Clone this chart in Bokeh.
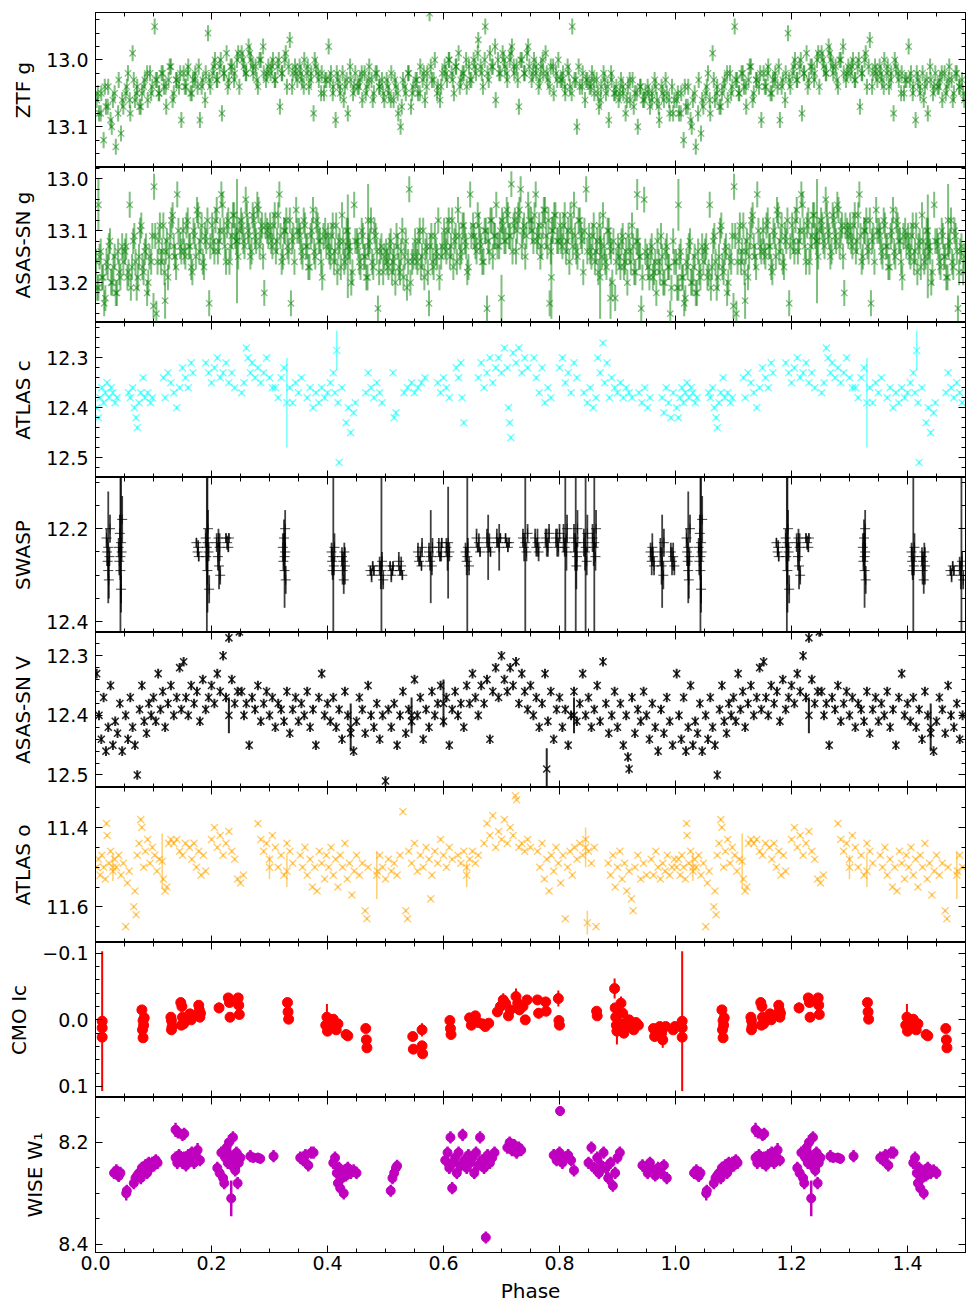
from bokeh.plotting import figure
from bokeh.models import (Range1d, LinearAxis, SingleIntervalTicker,
                          CustomJSTickFormatter, CustomLabelingPolicy)
from bokeh.layouts import column
from bokeh.embed import file_html
from bokeh.resources import INLINE

FONT = "DejaVu Sans"
TICK_FS = "19px"
LABEL_FS = "20px"

# ---------------- DATA (phase 0-1; phases < 0.5 are repeated at phase+1) ----------------
ZTF_PHASE = [
 0.002,0.006,0.010,0.014,0.018,0.022,0.026,0.030,0.035,0.040,0.044,0.048,
 0.052,0.056,0.060,0.064,0.068,0.072,0.076,0.080,0.085,0.090,0.094,0.098,
 0.102,0.106,0.110,0.114,0.118,0.122,0.126,0.130,0.135,0.140,0.144,0.148,
 0.152,0.156,0.160,0.164,0.168,0.172,0.176,0.180,0.185,0.190,0.194,0.198,
 0.202,0.206,0.210,0.214,0.218,0.222,0.226,0.230,0.235,0.240,0.244,0.248,
 0.252,0.256,0.260,0.264,0.268,0.272,0.276,0.280,0.285,0.290,0.294,0.298,
 0.302,0.306,0.310,0.314,0.318,0.322,0.326,0.330,0.335,0.340,0.344,0.348,
 0.352,0.356,0.360,0.364,0.368,0.372,0.376,0.380,0.385,0.390,0.394,0.398,
 0.402,0.406,0.410,0.414,0.418,0.422,0.426,0.430,0.435,0.440,0.444,0.448,
 0.452,0.456,0.460,0.464,0.468,0.472,0.476,0.480,0.485,0.490,0.494,0.498,
 0.502,0.506,0.510,0.514,0.518,0.522,0.526,0.530,0.535,0.540,0.544,0.548,
 0.552,0.556,0.560,0.564,0.568,0.572,0.576,0.580,0.585,0.590,0.594,0.598,
 0.602,0.606,0.610,0.614,0.618,0.622,0.626,0.630,0.635,0.640,0.644,0.648,
 0.652,0.656,0.660,0.664,0.668,0.672,0.676,0.680,0.685,0.690,0.694,0.698,
 0.702,0.706,0.710,0.714,0.718,0.722,0.726,0.730,0.735,0.740,0.744,0.748,
 0.752,0.756,0.760,0.764,0.768,0.772,0.776,0.780,0.785,0.790,0.794,0.798,
 0.802,0.806,0.810,0.814,0.818,0.822,0.826,0.830,0.835,0.840,0.844,0.848,
 0.852,0.856,0.860,0.864,0.868,0.872,0.876,0.880,0.885,0.890,0.894,0.898,
 0.902,0.906,0.910,0.914,0.918,0.922,0.926,0.930,0.935,0.940,0.944,0.948,
 0.952,0.956,0.960,0.964,0.968,0.972,0.976,0.980,0.985,0.990,0.994,0.998,
]
ZTF_MAG = [
 13.06,13.08,13.05,13.12,13.07,13.04,13.09,13.06,13.13,13.03,13.11,13.07,
 13.05,13.02,13.08,12.99,13.06,13.04,13.07,13.05,13.03,13.06,13.02,13.04,
 12.95,13.03,13.05,13.02,13.04,13.07,13.03,13.01,13.05,13.03,13.04,13.09,
 13.02,13.04,13.01,13.05,13.03,13.02,13.04,13.09,13.03,13.02,12.96,13.04,
 13.02,13.00,13.03,13.01,13.08,13.02,12.99,13.03,13.01,13.02,13.00,13.04,
 12.99,13.01,13.02,12.98,13.00,13.02,13.01,13.04,13.00,13.02,13.03,13.01,
 13.02,13.00,13.03,13.01,13.07,13.02,13.00,13.04,12.97,13.02,13.01,13.03,
 13.01,13.03,13.00,13.02,13.04,13.02,13.08,13.01,13.03,13.02,13.05,13.03,
 12.98,13.02,13.04,13.09,13.03,13.05,13.02,13.04,13.08,13.03,13.05,13.02,
 13.04,13.03,13.06,13.02,13.04,13.01,13.03,13.05,13.02,13.04,13.03,13.06,
 13.03,13.05,13.02,13.06,13.04,13.08,13.10,13.03,13.05,13.02,13.07,13.04,
 13.03,13.05,13.01,13.03,13.06,13.02,12.93,13.03,13.00,13.04,13.06,13.02,
 13.01,13.03,13.00,13.02,13.05,13.01,12.99,13.03,13.02,13.04,13.01,13.03,
 13.00,13.02,12.97,13.01,13.04,12.95,13.02,12.99,13.01,13.06,13.00,13.02,
 12.99,13.01,13.03,13.00,12.98,13.02,13.01,13.07,13.00,13.02,12.99,13.01,
 13.03,13.00,13.02,13.04,13.01,13.02,12.99,13.03,13.01,13.05,13.02,13.00,
 13.03,13.02,13.05,13.01,13.04,12.95,13.03,13.10,13.04,13.02,13.06,13.03,
 13.04,13.02,13.05,13.03,13.07,13.04,13.02,13.05,13.09,13.03,13.05,13.04,
 13.06,13.03,13.05,13.08,13.04,13.06,13.03,13.05,13.10,13.04,13.06,13.05,
 13.04,13.07,13.05,13.03,13.06,13.09,13.04,13.06,13.05,13.08,13.04,13.06,
]
ZTF2_PHASE = [
 0.004,0.009,0.016,0.021,0.028,0.033,0.039,0.046,
 0.054,0.059,0.066,0.071,0.078,0.083,0.089,0.096,
 0.104,0.109,0.116,0.121,0.128,0.133,0.139,0.146,
 0.154,0.159,0.166,0.171,0.178,0.183,0.189,0.196,
 0.204,0.209,0.216,0.221,0.228,0.233,0.239,0.246,
 0.254,0.259,0.266,0.271,0.278,0.283,0.289,0.296,
 0.304,0.309,0.316,0.321,0.328,0.333,0.339,0.346,
 0.354,0.359,0.366,0.371,0.378,0.383,0.389,0.396,
 0.404,0.409,0.416,0.421,0.428,0.433,0.439,0.446,
 0.454,0.459,0.466,0.471,0.478,0.483,0.489,0.496,
 0.504,0.509,0.516,0.521,0.528,0.533,0.539,0.546,
 0.554,0.559,0.566,0.571,0.578,0.583,0.589,0.596,
 0.604,0.609,0.616,0.621,0.628,0.633,0.639,0.646,
 0.654,0.659,0.666,0.671,0.678,0.683,0.689,0.696,
 0.704,0.709,0.716,0.721,0.728,0.733,0.739,0.746,
 0.754,0.759,0.766,0.771,0.778,0.783,0.789,0.796,
 0.804,0.809,0.816,0.821,0.828,0.833,0.839,0.846,
 0.854,0.859,0.866,0.871,0.878,0.883,0.889,0.896,
 0.904,0.909,0.916,0.921,0.928,0.933,0.939,0.946,
 0.954,0.959,0.966,0.971,0.978,0.983,0.989,0.996,
]
ZTF2_MAG = [
 13.05,13.08,13.04,13.07,13.10,13.05,13.08,13.06,
 13.04,13.06,13.03,13.05,13.07,13.04,13.02,13.05,
 13.03,13.05,13.02,13.04,13.01,13.06,13.03,13.02,
 13.04,13.02,13.05,13.03,13.01,13.04,13.06,13.03,
 13.01,13.03,13.00,13.02,13.04,13.01,13.03,12.99,
 13.00,13.02,12.99,13.01,13.03,13.00,12.98,13.02,
 13.01,13.03,13.00,13.02,12.99,13.01,13.04,13.02,
 13.02,13.04,13.01,13.03,13.00,13.02,13.05,13.03,
 13.03,13.05,13.02,13.04,13.06,13.03,13.01,13.04,
 13.04,13.02,13.05,13.03,13.06,13.02,13.04,13.05,
 13.04,13.06,13.03,13.05,13.07,13.04,13.02,13.05,
 13.03,13.05,13.02,13.04,13.01,13.03,13.05,13.04,
 13.02,13.00,13.03,13.01,13.04,13.02,13.00,13.03,
 13.01,12.99,13.02,13.00,13.03,13.01,12.98,13.02,
 13.00,13.02,12.99,13.01,13.03,13.00,13.02,12.98,
 13.02,13.01,13.03,13.00,13.02,13.04,13.01,13.03,
 13.03,13.04,13.02,13.05,13.03,13.01,13.04,13.03,
 13.04,13.03,13.05,13.06,13.03,13.04,13.02,13.05,
 13.05,13.04,13.06,13.03,13.07,13.05,13.04,13.06,
 13.05,13.06,13.04,13.07,13.05,13.03,13.06,13.08,
]
ZTF_ERR = 0.012

ASASG_PHASE = [
 0.001,0.005,0.009,0.013,0.017,0.021,0.025,0.029,0.033,0.037,0.041,0.046,
 0.051,0.055,0.059,0.063,0.067,0.071,0.075,0.079,0.083,0.087,0.091,0.096,
 0.101,0.105,0.109,0.113,0.117,0.121,0.125,0.129,0.133,0.137,0.141,0.146,
 0.151,0.155,0.159,0.163,0.167,0.171,0.175,0.179,0.183,0.187,0.191,0.196,
 0.201,0.205,0.209,0.213,0.217,0.221,0.225,0.229,0.233,0.237,0.241,0.246,
 0.251,0.255,0.259,0.263,0.267,0.271,0.275,0.279,0.283,0.287,0.291,0.296,
 0.301,0.305,0.309,0.313,0.317,0.321,0.325,0.329,0.333,0.337,0.341,0.346,
 0.351,0.355,0.359,0.363,0.367,0.371,0.375,0.379,0.383,0.387,0.391,0.396,
 0.401,0.405,0.409,0.413,0.417,0.421,0.425,0.429,0.433,0.437,0.441,0.446,
 0.451,0.455,0.459,0.463,0.467,0.471,0.475,0.479,0.483,0.487,0.491,0.496,
 0.501,0.505,0.509,0.513,0.517,0.521,0.525,0.529,0.533,0.537,0.541,0.546,
 0.551,0.555,0.559,0.563,0.567,0.571,0.575,0.579,0.583,0.587,0.591,0.596,
 0.601,0.605,0.609,0.613,0.617,0.621,0.625,0.629,0.633,0.637,0.641,0.646,
 0.651,0.655,0.659,0.663,0.667,0.671,0.675,0.679,0.683,0.687,0.691,0.696,
 0.701,0.705,0.709,0.713,0.717,0.721,0.725,0.729,0.733,0.737,0.741,0.746,
 0.751,0.755,0.759,0.763,0.767,0.771,0.775,0.779,0.783,0.787,0.791,0.796,
 0.801,0.805,0.809,0.813,0.817,0.821,0.825,0.829,0.833,0.837,0.841,0.846,
 0.851,0.855,0.859,0.863,0.867,0.871,0.875,0.879,0.883,0.887,0.891,0.896,
 0.901,0.905,0.909,0.913,0.917,0.921,0.925,0.929,0.933,0.937,0.941,0.946,
 0.951,0.955,0.959,0.963,0.967,0.971,0.975,0.979,0.983,0.987,0.991,0.996,
]
ASASG_MAG = [
 13.16,13.21,13.14,13.19,13.23,13.17,13.12,13.20,13.15,13.22,13.18,13.13,
 13.14,13.19,13.05,13.17,13.11,13.21,13.15,13.09,13.18,13.13,13.20,13.16,
 13.015,13.26,13.12,13.16,13.09,13.14,13.19,13.11,13.07,13.15,13.03,13.13,
 13.10,13.15,13.08,13.13,13.18,13.11,13.06,13.14,13.09,13.17,13.12,13.24,
 13.09,13.14,13.06,13.12,13.03,13.10,13.16,13.08,13.13,13.07,13.11,13.15,
 13.08,13.12,13.04,13.10,13.15,13.07,13.11,13.05,13.13,13.09,13.22,13.10,
 13.09,13.13,13.07,13.12,13.03,13.16,13.10,13.08,13.14,13.24,13.11,13.06,
 13.10,13.14,13.08,13.13,13.17,13.11,13.06,13.15,13.09,13.12,13.19,13.10,
 13.11,13.15,13.09,13.14,13.18,13.12,13.07,13.16,13.10,13.13,13.20,13.05,
 13.12,13.16,13.10,13.15,13.19,13.13,13.08,13.17,13.11,13.25,13.14,13.18,
 13.14,13.17,13.12,13.16,13.20,13.13,13.18,13.10,13.15,13.21,13.02,13.16,
 13.12,13.16,13.10,13.15,13.19,13.13,13.24,13.11,13.17,13.14,13.08,13.15,
 13.10,13.14,13.08,13.13,13.17,13.11,13.06,13.15,13.09,13.12,13.18,13.03,
 13.09,13.13,13.07,13.12,13.16,13.10,13.25,13.14,13.08,13.11,13.05,13.13,
 13.08,13.12,13.06,13.11,13.01,13.09,13.14,13.07,13.02,13.10,13.15,13.05,
 13.08,13.12,13.03,13.11,13.15,13.09,13.06,13.13,13.24,13.10,13.07,13.12,
 13.09,13.13,13.07,13.12,13.16,13.10,13.05,13.14,13.08,13.11,13.18,13.02,
 13.11,13.15,13.09,13.14,13.18,13.12,13.07,13.16,13.10,13.13,13.20,13.23,
 13.13,13.17,13.11,13.16,13.20,13.14,13.09,13.18,13.12,13.15,13.25,13.04,
 13.15,13.19,13.13,13.18,13.22,13.16,13.11,13.20,13.14,13.17,13.26,13.12,
]
ASASG2_PHASE = [
 0.003,0.007,0.011,0.015,0.019,0.023,0.027,0.031,0.035,0.039,0.043,0.048,
 0.053,0.057,0.061,0.065,0.069,0.073,0.077,0.081,0.085,0.089,0.093,0.098,
 0.103,0.107,0.111,0.115,0.119,0.123,0.127,0.131,0.135,0.139,0.143,0.148,
 0.153,0.157,0.161,0.165,0.169,0.173,0.177,0.181,0.185,0.189,0.193,0.198,
 0.203,0.207,0.211,0.215,0.219,0.223,0.227,0.231,0.235,0.239,0.243,0.248,
 0.253,0.257,0.261,0.265,0.269,0.273,0.277,0.281,0.285,0.289,0.293,0.298,
 0.303,0.307,0.311,0.315,0.319,0.323,0.327,0.331,0.335,0.339,0.343,0.348,
 0.353,0.357,0.361,0.365,0.369,0.373,0.377,0.381,0.385,0.389,0.393,0.398,
 0.403,0.407,0.411,0.415,0.419,0.423,0.427,0.431,0.435,0.439,0.443,0.448,
 0.453,0.457,0.461,0.465,0.469,0.473,0.477,0.481,0.485,0.489,0.493,0.498,
 0.503,0.507,0.511,0.515,0.519,0.523,0.527,0.531,0.535,0.539,0.543,0.548,
 0.553,0.557,0.561,0.565,0.569,0.573,0.577,0.581,0.585,0.589,0.593,0.598,
 0.603,0.607,0.611,0.615,0.619,0.623,0.627,0.631,0.635,0.639,0.643,0.648,
 0.653,0.657,0.661,0.665,0.669,0.673,0.677,0.681,0.685,0.689,0.693,0.698,
 0.703,0.707,0.711,0.715,0.719,0.723,0.727,0.731,0.735,0.739,0.743,0.748,
 0.753,0.757,0.761,0.765,0.769,0.773,0.777,0.781,0.785,0.789,0.793,0.798,
 0.803,0.807,0.811,0.815,0.819,0.823,0.827,0.831,0.835,0.839,0.843,0.848,
 0.853,0.857,0.861,0.865,0.869,0.873,0.877,0.881,0.885,0.889,0.893,0.898,
 0.903,0.907,0.911,0.915,0.919,0.923,0.927,0.931,0.935,0.939,0.943,0.948,
 0.953,0.957,0.961,0.965,0.969,0.973,0.977,0.981,0.985,0.989,0.993,0.998,
]
ASASG2_MAG = [
 13.21,13.15,13.19,13.24,13.16,13.13,13.20,13.17,13.22,13.14,13.19,13.16,
 13.13,13.18,13.21,13.12,13.16,13.19,13.10,13.17,13.14,13.22,13.15,13.11,
 13.11,13.16,13.09,13.14,13.18,13.12,13.15,13.08,13.13,13.17,13.10,13.14,
 13.14,13.09,13.13,13.17,13.10,13.15,13.07,13.12,13.16,13.11,13.08,13.13,
 13.12,13.08,13.14,13.10,13.05,13.13,13.09,13.16,13.11,13.07,13.12,13.10,
 13.09,13.13,13.07,13.11,13.14,13.08,13.12,13.06,13.10,13.15,13.09,13.11,
 13.12,13.09,13.14,13.07,13.11,13.15,13.10,13.13,13.08,13.12,13.16,13.10,
 13.11,13.15,13.09,13.13,13.17,13.10,13.14,13.08,13.12,13.16,13.11,13.13,
 13.14,13.11,13.16,13.09,13.13,13.17,13.12,13.15,13.10,13.14,13.18,13.12,
 13.13,13.17,13.11,13.15,13.19,13.12,13.16,13.10,13.14,13.18,13.13,13.15,
 13.16,13.13,13.18,13.15,13.11,13.17,13.14,13.19,13.12,13.16,13.20,13.15,
 13.15,13.12,13.17,13.10,13.14,13.18,13.13,13.16,13.11,13.15,13.19,13.13,
 13.13,13.10,13.15,13.08,13.12,13.16,13.11,13.14,13.09,13.13,13.17,13.11,
 13.11,13.14,13.09,13.13,13.16,13.10,13.12,13.08,13.15,13.11,13.13,13.10,
 13.09,13.12,13.07,13.11,13.14,13.08,13.10,13.06,13.13,13.09,13.11,13.08,
 13.10,13.07,13.12,13.09,13.13,13.06,13.11,13.08,13.14,13.10,13.07,13.12,
 13.12,13.09,13.14,13.10,13.07,13.13,13.11,13.15,13.08,13.12,13.10,13.14,
 13.14,13.11,13.16,13.12,13.09,13.15,13.13,13.17,13.10,13.14,13.12,13.16,
 13.15,13.12,13.17,13.14,13.11,13.16,13.13,13.18,13.12,13.15,13.19,13.14,
 13.17,13.14,13.19,13.16,13.12,13.18,13.15,13.20,13.13,13.17,13.21,13.16,
]
ASASG_ERR = 0.025
ASASG_WIDE = [(0.005, 13.05, 0.05), (0.100, 13.245, 0.025), (0.120, 13.235, 0.035),
              (0.244, 13.12, 0.12), (0.435, 13.13, 0.10), (0.470, 13.08, 0.07),
              (0.700, 13.23, 0.045), (0.786, 13.19, 0.08), (0.870, 13.19, 0.08),
              (0.888, 13.23, 0.04), (0.934, 13.03, 0.03)]

ATLASC_PHASE = [
 0.002,0.005,0.008,0.011,0.014,0.017,0.020,0.023,0.027,0.030,0.034,0.037,
 0.057,0.060,0.064,0.067,0.070,0.072,0.075,0.078,0.082,0.085,0.090,0.095,0.098,
 0.117,0.120,0.125,0.130,0.135,0.140,0.145,0.150,0.155,0.160,0.165,0.168,
 0.190,0.195,0.200,0.205,0.210,0.215,0.220,0.225,0.230,0.235,0.240,
 0.252,0.256,0.260,0.263,0.267,0.270,0.275,0.280,0.285,0.290,0.295,0.300,0.305,
 0.310,0.315,0.320,0.325,0.335,0.340,0.345,0.350,0.355,
 0.365,0.370,0.375,0.380,0.385,0.390,0.395,0.400,0.405,0.410,0.413,0.418,0.420,0.425,
 0.432,0.436,0.440,0.445,0.448,
 0.466,0.470,0.475,0.480,0.485,0.490,0.494,
 0.513,0.515,0.518,
 0.532,0.538,0.545,0.550,0.556,0.562,0.568,
 0.590,0.595,0.600,0.605,0.610,
 0.622,0.626,0.630,0.632,0.635,
 0.660,0.665,0.670,0.675,0.680,0.685,0.690,
 0.695,0.700,0.705,0.710,0.712,0.714,0.716,
 0.720,0.725,0.730,0.735,0.740,0.745,
 0.756,0.760,0.765,0.770,0.775,0.780,0.785,
 0.800,0.805,0.810,0.815,0.820,0.825,0.830,
 0.842,0.848,0.853,0.858,0.863,
 0.866,0.870,0.875,0.878,0.882,0.886,0.890,
 0.895,0.900,0.905,0.910,0.915,0.920,0.925,
 0.937,0.942,0.947,0.952,0.956,
 0.977,0.980,0.984,0.988,0.992,0.996,
]
ATLASC_MAG = [
 12.40,12.42,12.38,12.36,12.39,12.37,12.35,12.38,12.36,12.37,12.39,12.38,
 12.37,12.38,12.36,12.40,12.42,12.44,12.39,12.37,12.34,12.38,12.37,12.39,12.38,
 12.34,12.38,12.33,12.35,12.37,12.40,12.36,12.32,12.34,12.36,12.31,12.33,
 12.31,12.33,12.35,12.32,12.30,12.34,12.33,12.31,12.35,12.33,12.36,
 12.37,12.35,12.28,12.30,12.33,12.31,12.34,12.32,12.35,12.33,12.30,12.34,12.36,
 12.36,12.38,12.34,12.32,12.36,12.39,12.35,12.37,12.34,
 12.38,12.36,12.40,12.37,12.39,12.36,12.38,12.37,12.35,12.33,12.37,12.39,12.51,12.36,
 12.43,12.40,12.45,12.41,12.39,
 12.37,12.33,12.36,12.38,12.35,12.37,12.39,
 12.33,12.42,12.41,
 12.37,12.36,12.35,12.37,12.36,12.35,12.34,
 12.35,12.37,12.34,12.36,12.38,
 12.32,12.34,12.31,12.38,12.43,
 12.34,12.31,12.36,12.33,12.30,12.35,12.32,
 12.30,12.33,12.28,12.32,12.40,12.43,12.46,
 12.29,12.31,12.28,12.33,12.30,12.32,
 12.30,12.34,12.37,12.32,12.39,12.36,12.38,
 12.32,12.30,12.35,12.33,12.37,12.31,12.34,
 12.37,12.39,12.36,12.40,12.38,
 12.30,12.33,12.27,12.35,12.31,12.38,12.34,
 12.36,12.37,12.35,12.38,12.36,12.37,12.38,
 12.37,12.39,12.36,12.40,12.38,
 12.38,12.41,12.36,12.39,12.42,12.37,
]
ATLASC_ERR = 0.004
ATLASC_WIDE = [(0.330, 12.39, 0.09), (0.416, 12.285, 0.04)]

SWASP_POINTS = [
 (0.019,12.22,0.02),(0.020,12.25,0.03),(0.021,12.27,0.01),(0.022,12.29,0.02),(0.022,12.24,0.12),
 (0.023,12.31,0.04),(0.024,12.26,0.02),(0.025,12.20,0.03),
 (0.040,12.24,0.02),(0.041,12.27,0.03),(0.042,12.21,0.04),(0.043,12.29,0.02),(0.043,12.26,0.20),
 (0.044,12.33,0.03),(0.045,12.25,0.02),(0.046,12.18,0.05),(0.044,12.23,0.15),
 (0.174,12.23,0.01),(0.176,12.25,0.01),(0.177,12.24,0.015),(0.178,12.26,0.01),
 (0.190,12.22,0.02),(0.191,12.26,0.03),(0.192,12.24,0.20),(0.193,12.29,0.03),(0.194,12.20,0.04),
 (0.195,12.25,0.02),(0.196,12.33,0.03),(0.193,12.23,0.15),
 (0.209,12.23,0.02),(0.211,12.26,0.03),(0.212,12.22,0.02),(0.213,12.28,0.05),(0.214,12.24,0.03),(0.215,12.30,0.02),
 (0.225,12.22,0.01),(0.227,12.23,0.015),(0.229,12.24,0.01),(0.230,12.22,0.01),
 (0.323,12.24,0.03),(0.324,12.27,0.02),(0.325,12.22,0.04),(0.326,12.29,0.08),(0.327,12.25,0.02),
 (0.328,12.31,0.03),(0.326,12.26,0.05),(0.327,12.20,0.04),
 (0.407,12.25,0.02),(0.408,12.27,0.03),(0.409,12.29,0.02),(0.410,12.26,0.20),(0.411,12.28,0.02),(0.412,12.24,0.03),
 (0.425,12.26,0.02),(0.426,12.29,0.03),(0.427,12.27,0.02),(0.428,12.31,0.03),(0.429,12.25,0.02),(0.430,12.28,0.04),
 (0.474,12.29,0.01),(0.476,12.30,0.015),(0.478,12.28,0.01),(0.480,12.29,0.01),
 (0.490,12.28,0.02),(0.492,12.30,0.03),(0.493,12.29,0.20),(0.494,12.27,0.02),(0.496,12.31,0.02),
 (0.508,12.28,0.01),(0.510,12.30,0.015),(0.512,12.29,0.01),(0.513,12.28,0.01),
 (0.523,12.27,0.02),(0.525,12.29,0.01),(0.527,12.28,0.02),(0.529,12.30,0.01),
 (0.556,12.25,0.02),(0.558,12.27,0.01),(0.560,12.26,0.02),(0.562,12.28,0.01),(0.563,12.24,0.02),
 (0.575,12.25,0.02),(0.577,12.27,0.02),(0.578,12.26,0.10),(0.580,12.28,0.02),(0.581,12.24,0.02),
 (0.592,12.24,0.02),(0.594,12.26,0.01),(0.596,12.25,0.02),(0.597,12.23,0.01),
 (0.605,12.24,0.02),(0.607,12.26,0.03),(0.608,12.23,0.12),(0.610,12.25,0.02),
 (0.638,12.25,0.02),(0.640,12.27,0.03),(0.641,12.26,0.20),(0.642,12.24,0.02),(0.644,12.28,0.02),
 (0.657,12.22,0.02),(0.659,12.24,0.01),(0.661,12.23,0.02),(0.663,12.25,0.01),
 (0.675,12.22,0.02),(0.677,12.24,0.07),(0.679,12.23,0.02),(0.681,12.25,0.01),
 (0.692,12.22,0.02),(0.694,12.23,0.01),(0.696,12.24,0.05),(0.698,12.22,0.01),
 (0.707,12.22,0.01),(0.709,12.23,0.01),(0.711,12.24,0.01),(0.713,12.23,0.01),
 (0.737,12.22,0.02),(0.739,12.24,0.03),(0.741,12.23,0.20),(0.743,12.25,0.02),(0.745,12.21,0.02),
 (0.758,12.22,0.02),(0.760,12.24,0.02),(0.762,12.23,0.03),(0.764,12.25,0.02),
 (0.776,12.22,0.02),(0.778,12.23,0.03),(0.780,12.24,0.02),(0.782,12.21,0.02),
 (0.794,12.22,0.02),(0.796,12.23,0.03),(0.798,12.24,0.02),(0.800,12.21,0.02),
 (0.807,12.22,0.03),(0.809,12.24,0.02),(0.810,12.23,0.20),(0.812,12.25,0.04),(0.813,12.20,0.03),
 (0.825,12.22,0.03),(0.827,12.25,0.04),(0.828,12.23,0.20),(0.830,12.26,0.03),(0.831,12.20,0.04),(0.829,12.28,0.05),
 (0.842,12.23,0.03),(0.844,12.25,0.04),(0.845,12.24,0.20),(0.847,12.27,0.03),(0.848,12.21,0.04),
 (0.857,12.22,0.03),(0.859,12.24,0.04),(0.860,12.23,0.20),(0.862,12.26,0.03),(0.863,12.20,0.04),
 (0.957,12.25,0.02),(0.959,12.27,0.03),(0.961,12.26,0.02),(0.963,12.28,0.02),(0.960,12.24,0.03),
 (0.974,12.25,0.03),(0.976,12.28,0.04),(0.977,12.27,0.10),(0.979,12.30,0.03),(0.980,12.23,0.03),
 (0.992,12.25,0.02),(0.994,12.27,0.03),(0.996,12.26,0.03),(0.998,12.28,0.02),
]

ASASV_POINTS = [
 (0.002,12.33),(0.006,12.40),(0.010,12.44),(0.014,12.37),(0.018,12.46),(0.022,12.42),(0.026,12.35),(0.030,12.45),
 (0.034,12.41),(0.038,12.43),(0.042,12.38),(0.046,12.46),
 (0.052,12.40),(0.056,12.44),(0.060,12.37),(0.064,12.42),(0.068,12.45),(0.072,12.50),(0.076,12.39),(0.080,12.35),
 (0.084,12.41),(0.088,12.43),(0.092,12.38),(0.096,12.40),
 (0.100,12.37),(0.104,12.41),(0.108,12.33),(0.112,12.39),(0.116,12.36),(0.120,12.42),(0.125,12.38),(0.130,12.35),
 (0.135,12.40),(0.140,12.37),(0.145,12.32),(0.148,12.39),
 (0.152,12.31),(0.156,12.37),(0.160,12.40),(0.165,12.35),(0.170,12.38),(0.175,12.36),(0.180,12.41),(0.185,12.34),
 (0.190,12.39),(0.195,12.37),
 (0.200,12.35),(0.205,12.38),(0.210,12.33),(0.215,12.36),(0.220,12.30),(0.225,12.37),(0.230,12.27),(0.235,12.34),
 (0.240,12.38),(0.245,12.36),(0.248,12.26),
 (0.252,12.36),(0.256,12.40),(0.260,12.38),(0.265,12.45),(0.270,12.37),(0.275,12.39),(0.280,12.35),(0.285,12.41),
 (0.290,12.38),(0.295,12.36),
 (0.300,12.40),(0.305,12.37),(0.310,12.42),(0.315,12.38),(0.320,12.39),(0.325,12.41),(0.330,12.36),(0.335,12.43),
 (0.340,12.39),(0.345,12.37),
 (0.350,12.41),(0.355,12.38),(0.360,12.40),(0.365,12.36),(0.370,12.42),(0.375,12.39),(0.380,12.45),(0.385,12.37),
 (0.390,12.33),(0.395,12.40),
 (0.400,12.38),(0.405,12.41),(0.410,12.37),(0.415,12.42),(0.420,12.39),(0.425,12.44),(0.430,12.36),(0.435,12.40),
 (0.440,12.43),(0.445,12.46),
 (0.450,12.41),(0.455,12.37),(0.460,12.39),(0.465,12.43),(0.470,12.35),(0.475,12.40),(0.480,12.42),(0.485,12.38),
 (0.490,12.44),(0.495,12.40),
 (0.500,12.51),(0.505,12.39),(0.510,12.42),(0.515,12.38),(0.520,12.45),(0.525,12.40),(0.530,12.36),(0.535,12.43),
 (0.540,12.39),(0.545,12.41),
 (0.550,12.34),(0.555,12.40),(0.560,12.37),(0.565,12.44),(0.570,12.39),(0.575,12.42),(0.580,12.36),(0.585,12.40),
 (0.590,12.38),(0.595,12.35),
 (0.600,12.41),(0.605,12.37),(0.610,12.45),(0.615,12.39),(0.620,12.36),(0.625,12.40),(0.630,12.38),(0.635,12.42),
 (0.640,12.35),(0.645,12.38),
 (0.650,12.33),(0.655,12.37),(0.660,12.40),(0.665,12.35),(0.670,12.38),(0.675,12.34),(0.680,12.44),(0.685,12.36),
 (0.690,12.32),(0.695,12.37),
 (0.700,12.30),(0.705,12.34),(0.710,12.36),(0.715,12.32),(0.720,12.35),(0.725,12.31),(0.730,12.38),(0.735,12.33),
 (0.740,12.36),(0.745,12.39),
 (0.750,12.35),(0.755,12.40),(0.760,12.37),(0.765,12.42),(0.770,12.38),(0.775,12.33),(0.780,12.41),(0.785,12.36),
 (0.790,12.44),(0.795,12.39),
 (0.800,12.37),(0.805,12.42),(0.810,12.39),(0.815,12.45),(0.820,12.40),(0.825,12.36),(0.830,12.41),(0.835,12.38),
 (0.840,12.33),(0.845,12.40),
 (0.850,12.37),(0.855,12.42),(0.860,12.39),(0.865,12.35),(0.870,12.41),(0.875,12.31),(0.880,12.38),(0.885,12.43),
 (0.890,12.40),(0.895,12.36),
 (0.900,12.42),(0.905,12.38),(0.910,12.45),(0.915,12.40),(0.918,12.47),(0.920,12.49),(0.925,12.37),(0.930,12.43),
 (0.935,12.39),(0.940,12.41),(0.945,12.36),
 (0.950,12.40),(0.955,12.44),(0.960,12.38),(0.965,12.42),(0.970,12.46),(0.975,12.39),(0.980,12.43),(0.985,12.37),
 (0.990,12.41),(0.995,12.45),
]
ASASV_ERR = 0.008
ASASV_WIDE = [(0.440, 12.42, 0.04), (0.545, 12.40, 0.03), (0.600, 12.38, 0.04),
              (0.778, 12.49, 0.035), (0.825, 12.40, 0.03), (0.230, 12.40, 0.03)]

ATLASO_POINTS = [
 (0.002,11.50),(0.005,11.48),(0.008,11.52),(0.011,11.47),(0.014,11.50),(0.017,11.53),(0.019,11.39),(0.020,11.42),
 (0.023,11.49),(0.026,11.46),(0.030,11.51),(0.033,11.48),(0.036,11.50),(0.040,11.47),(0.044,11.52),(0.048,11.49),
 (0.052,11.65),(0.055,11.54),(0.058,11.51),
 (0.066,11.60),(0.068,11.56),(0.070,11.62),(0.072,11.47),(0.075,11.44),(0.078,11.38),(0.080,11.40),(0.083,11.50),
 (0.086,11.46),(0.090,11.43),(0.094,11.49),(0.098,11.45),(0.102,11.47),(0.106,11.51),(0.110,11.48),
 (0.117,11.53),(0.120,11.56),(0.123,11.55),(0.126,11.44),(0.130,11.43),(0.135,11.44),(0.140,11.43),(0.145,11.46),
 (0.150,11.47),(0.155,11.44),
 (0.162,11.45),(0.166,11.48),(0.170,11.44),(0.174,11.50),(0.178,11.46),(0.182,11.52),(0.186,11.47),(0.190,11.51),
 (0.200,11.43),(0.205,11.40),(0.210,11.45),(0.215,11.42),(0.220,11.47),(0.225,11.44),(0.230,11.41),(0.235,11.46),
 (0.240,11.48),(0.245,11.53),(0.250,11.54),(0.255,11.52),
 (0.280,11.39),(0.285,11.43),(0.290,11.46),(0.295,11.44),(0.300,11.48),(0.305,11.42),(0.310,11.45),(0.315,11.50),
 (0.320,11.47),(0.325,11.52),(0.330,11.44),(0.335,11.46),(0.340,11.49),
 (0.353,11.47),(0.357,11.50),(0.361,11.45),(0.365,11.52),(0.370,11.48),(0.374,11.55),(0.378,11.50),(0.382,11.56),
 (0.386,11.46),(0.390,11.49),(0.395,11.53),(0.398,11.47),
 (0.402,11.50),(0.406,11.45),(0.410,11.52),(0.414,11.48),(0.418,11.55),(0.422,11.47),(0.426,11.50),(0.430,11.44),
 (0.434,11.53),(0.438,11.49),(0.442,11.57),(0.446,11.51),(0.450,11.47),(0.455,11.52),(0.460,11.49),(0.465,11.61),
 (0.468,11.63),(0.470,11.50),
 (0.486,11.51),(0.490,11.47),(0.495,11.50),(0.500,11.53),(0.505,11.48),(0.510,11.51),(0.515,11.49),(0.520,11.52),
 (0.525,11.47),
 (0.530,11.36),(0.535,11.61),(0.538,11.63),(0.540,11.46),(0.545,11.49),(0.550,11.44),(0.555,11.51),(0.560,11.47),
 (0.565,11.50),(0.570,11.45),(0.575,11.48),(0.578,11.58),(0.580,11.52),(0.585,11.46),(0.590,11.49),(0.595,11.43),
 (0.600,11.47),(0.605,11.50),(0.610,11.45),(0.615,11.48),
 (0.625,11.47),(0.630,11.49),(0.635,11.46),(0.640,11.50),(0.645,11.48),(0.650,11.46),(0.655,11.49),(0.660,11.47),
 (0.670,11.44),(0.675,11.39),(0.680,11.42),(0.685,11.37),(0.690,11.45),(0.695,11.41),(0.700,11.43),(0.705,11.38),
 (0.710,11.44),(0.715,11.40),(0.720,11.42),(0.724,11.32),(0.726,11.33),(0.730,11.45),
 (0.735,11.44),(0.740,11.46),(0.745,11.43),(0.750,11.45),
 (0.762,11.46),(0.766,11.50),(0.770,11.44),(0.774,11.53),(0.778,11.48),(0.782,11.56),(0.786,11.47),(0.790,11.51),
 (0.794,11.45),(0.798,11.49),(0.802,11.54),(0.806,11.47),(0.810,11.63),(0.814,11.50),(0.818,11.46),(0.822,11.52),
 (0.826,11.45),(0.830,11.48),(0.835,11.44),(0.840,11.47),(0.845,11.43),(0.850,11.46),(0.855,11.49),(0.860,11.45),
 (0.863,11.65),
 (0.884,11.49),(0.888,11.52),(0.892,11.47),(0.896,11.55),(0.900,11.50),(0.904,11.46),(0.908,11.53),(0.912,11.49),
 (0.916,11.56),(0.920,11.51),(0.924,11.58),(0.927,11.61),(0.930,11.50),(0.935,11.47),(0.940,11.53),(0.945,11.49),
 (0.950,11.52),
 (0.958,11.48),(0.962,11.52),(0.966,11.46),(0.970,11.50),(0.974,11.53),(0.978,11.49),(0.982,11.51),(0.986,11.47),
 (0.990,11.52),(0.994,11.50),(0.998,11.48),
]
ATLASO_ERR = 0.004
ATLASO_WIDE = [(0.030, 11.50, 0.035), (0.115, 11.485, 0.07), (0.300, 11.50, 0.03), (0.330, 11.51, 0.04),
               (0.485, 11.52, 0.06), (0.640, 11.52, 0.03), (0.845, 11.45, 0.05), (0.848, 11.64, 0.03)]

CMO_POINTS = [
 (0.0115,0.002,0.105),(0.0115,0.012,0.005),(0.0115,0.026,0.006),
 (0.080,-0.015,0.005),(0.082,0.001,0.006),(0.083,0.008,0.005),(0.081,0.015,0.005),(0.082,0.027,0.006),(0.084,-0.003,0.005),
 (0.130,-0.004,0.006),(0.131,0.001,0.005),(0.132,0.010,0.008),(0.131,0.015,0.006),
 (0.147,-0.026,0.006),(0.149,-0.020,0.005),(0.150,-0.004,0.006),(0.152,0.006,0.005),(0.148,0.008,0.004),
 (0.163,-0.009,0.006),(0.165,0.000,0.005),(0.166,-0.004,0.004),
 (0.178,-0.022,0.006),(0.179,-0.015,0.005),(0.180,-0.004,0.005),(0.181,-0.010,0.004),
 (0.213,-0.018,0.008),
 (0.229,-0.033,0.006),(0.231,-0.026,0.005),(0.232,-0.004,0.006),
 (0.246,-0.033,0.005),(0.247,-0.022,0.005),(0.248,-0.008,0.005),
 (0.331,-0.026,0.005),(0.332,-0.012,0.005),(0.333,-0.001,0.005),
 (0.399,-0.004,0.020),(0.397,0.008,0.005),(0.400,0.017,0.005),(0.405,0.012,0.005),(0.410,-0.001,0.005),
 (0.412,0.008,0.006),(0.415,0.015,0.005),(0.418,0.006,0.004),
 (0.432,0.022,0.005),(0.435,0.024,0.004),
 (0.466,0.013,0.005),(0.467,0.030,0.005),(0.468,0.042,0.006),
 (0.547,0.025,0.006),(0.548,0.044,0.006),(0.563,0.015,0.010),(0.563,0.039,0.006),(0.564,0.051,0.006),
 (0.611,0.001,0.005),(0.612,0.013,0.005),(0.613,0.022,0.005),
 (0.645,-0.003,0.006),(0.648,0.008,0.005),(0.655,-0.006,0.005),(0.660,0.004,0.005),(0.667,0.006,0.006),
 (0.672,0.010,0.005),(0.678,0.005,0.005),
 (0.693,-0.012,0.006),(0.698,-0.020,0.005),(0.703,-0.030,0.010),(0.707,-0.025,0.006),(0.712,-0.006,0.005),(0.715,-0.015,0.005),
 (0.725,-0.035,0.012),(0.728,-0.025,0.006),(0.731,-0.015,0.005),(0.737,-0.020,0.006),(0.741,0.000,0.006),(0.744,-0.030,0.005),
 (0.762,-0.030,0.005),(0.764,-0.010,0.008),
 (0.776,-0.027,0.006),(0.777,-0.013,0.005),
 (0.798,-0.032,0.012),(0.799,0.001,0.005),(0.800,0.008,0.005),
 (0.864,-0.013,0.005),(0.865,-0.006,0.005),
 (0.895,-0.047,0.015),(0.896,-0.018,0.006),(0.897,-0.004,0.005),(0.898,0.008,0.006),(0.899,0.017,0.020),
 (0.903,0.005,0.006),(0.906,0.012,0.005),(0.909,-0.010,0.006),(0.911,0.020,0.006),(0.914,0.005,0.005),
 (0.917,0.010,0.006),(0.920,0.000,0.006),(0.924,0.008,0.005),(0.928,0.015,0.005),(0.932,0.004,0.006),
 (0.936,0.008,0.005),(0.906,-0.025,0.010),
 (0.962,0.013,0.005),(0.964,0.025,0.006),(0.973,0.010,0.006),(0.976,0.020,0.008),(0.978,0.030,0.012),(0.983,0.010,0.005),
 (0.996,0.015,0.005),(0.999,0.010,0.006),
]

WISE_POINTS = [
 (0.032,8.260,0.012),(0.036,8.255,0.012),(0.040,8.266,0.012),(0.043,8.260,0.012),
 (0.053,8.300,0.014),(0.054,8.295,0.012),
 (0.066,8.280,0.012),(0.069,8.270,0.012),(0.072,8.265,0.012),(0.075,8.260,0.012),(0.078,8.270,0.012),
 (0.080,8.250,0.012),(0.083,8.255,0.012),(0.086,8.245,0.012),(0.089,8.260,0.012),(0.092,8.240,0.012),
 (0.095,8.250,0.012),(0.098,8.240,0.012),(0.101,8.245,0.012),(0.104,8.235,0.012),(0.107,8.240,0.012),
 (0.138,8.175,0.014),(0.142,8.180,0.012),(0.150,8.185,0.012),(0.153,8.183,0.012),
 (0.138,8.230,0.012),(0.141,8.240,0.012),(0.144,8.225,0.012),(0.147,8.235,0.012),(0.150,8.240,0.012),
 (0.153,8.230,0.012),(0.156,8.245,0.012),(0.160,8.225,0.012),(0.163,8.235,0.012),(0.166,8.220,0.012),
 (0.170,8.240,0.012),(0.173,8.230,0.012),(0.176,8.215,0.014),(0.180,8.235,0.012),
 (0.210,8.250,0.012),(0.214,8.260,0.012),(0.217,8.220,0.012),(0.220,8.270,0.012),(0.222,8.280,0.012),
 (0.224,8.230,0.012),(0.226,8.210,0.014),(0.228,8.240,0.012),(0.230,8.200,0.014),(0.232,8.225,0.012),
 (0.234,8.310,0.035),(0.235,8.245,0.012),(0.237,8.190,0.012),(0.239,8.235,0.012),(0.241,8.255,0.012),
 (0.243,8.220,0.012),(0.245,8.280,0.012),(0.247,8.240,0.012),(0.250,8.230,0.012),
 (0.267,8.227,0.012),(0.272,8.230,0.010),(0.280,8.230,0.010),(0.284,8.232,0.010),
 (0.307,8.227,0.012),
 (0.353,8.230,0.012),(0.358,8.235,0.012),(0.362,8.225,0.012),(0.367,8.245,0.012),(0.372,8.220,0.012),(0.376,8.220,0.012),
 (0.410,8.240,0.012),(0.413,8.230,0.012),(0.416,8.260,0.012),(0.418,8.280,0.014),(0.420,8.250,0.012),
 (0.422,8.290,0.014),(0.425,8.270,0.012),(0.428,8.300,0.012),(0.430,8.255,0.012),(0.432,8.265,0.012),
 (0.435,8.250,0.012),(0.440,8.260,0.012),(0.445,8.255,0.012),(0.450,8.260,0.012),
 (0.509,8.295,0.012),(0.512,8.270,0.012),(0.515,8.260,0.012),(0.518,8.250,0.012),(0.520,8.246,0.012),
 (0.603,8.235,0.012),(0.607,8.220,0.012),(0.610,8.250,0.012),(0.612,8.190,0.012),(0.615,8.290,0.012),
 (0.617,8.240,0.012),(0.620,8.230,0.012),(0.623,8.260,0.012),(0.626,8.220,0.012),(0.630,8.245,0.012),
 (0.633,8.185,0.012),(0.636,8.235,0.012),(0.640,8.250,0.012),(0.643,8.225,0.012),(0.646,8.240,0.012),
 (0.650,8.230,0.012),(0.653,8.260,0.012),(0.656,8.220,0.012),(0.660,8.245,0.012),(0.663,8.190,0.012),
 (0.666,8.235,0.012),(0.670,8.250,0.012),(0.673,8.387,0.012),(0.676,8.225,0.012),(0.680,8.240,0.012),
 (0.684,8.230,0.012),(0.688,8.220,0.012),
 (0.710,8.210,0.012),(0.714,8.200,0.012),(0.718,8.215,0.012),(0.722,8.205,0.012),(0.726,8.220,0.012),
 (0.730,8.210,0.012),(0.734,8.215,0.012),
 (0.801,8.138,0.010),
 (0.790,8.225,0.012),(0.795,8.235,0.012),(0.800,8.220,0.012),(0.805,8.240,0.012),(0.810,8.230,0.012),
 (0.815,8.225,0.012),(0.820,8.235,0.012),(0.825,8.255,0.012),
 (0.850,8.240,0.012),(0.855,8.210,0.012),(0.860,8.250,0.012),(0.865,8.230,0.012),(0.868,8.260,0.012),
 (0.872,8.245,0.012),(0.876,8.220,0.012),(0.880,8.250,0.012),(0.884,8.270,0.012),(0.888,8.240,0.012),
 (0.892,8.285,0.012),(0.896,8.260,0.012),(0.900,8.230,0.012),(0.904,8.220,0.012),
 (0.943,8.245,0.012),(0.948,8.250,0.012),(0.952,8.260,0.012),(0.956,8.240,0.012),(0.960,8.255,0.012),
 (0.965,8.265,0.012),(0.970,8.250,0.012),(0.975,8.260,0.012),(0.980,8.245,0.012),(0.985,8.270,0.012),
]

# panel: label, (bottom, top) of magnitude axis, major step, minor divisions
PANELS = [
 ("ZTF g", (13.161, 12.929), 0.1, 5),
 ("ASAS-SN g", (13.277, 12.978), 0.1, 5),
 ("ATLAS c", (12.54, 12.229), 0.1, 5),
 ("SWASP", (12.423, 12.09), 0.2, 4),
 ("ASAS-SN V", (12.521, 12.261), 0.1, 5),
 ("ATLAS o", (11.69, 11.299), 0.2, 4),
 ("CMO Ic", (0.1166, -0.1162), 0.1, 5),
 ("WISE W\u2081", (8.4165, 8.1115), 0.2, 4),
]
X_RANGE = (0.0, 1.5)

# ---------------- helpers ----------------
FMT = "var s = Math.abs(tick).toFixed(1); return (tick < -1e-9 ? '\u2212' : '') + s;"
NO_LABELS = "try { for (const i of Array.from(indices)) { indices.unset(i) } } catch (e) {} return indices;"

FRAME_W, FRAME_H = 870, 155
LEFT, TOP, RIGHT = 95, 12, 2

def fold(ph, mg, er):
    P = list(ph) + [p + 1.0 for p in ph if p < 0.5]
    M = list(mg) + [m for p, m in zip(ph, mg) if p < 0.5]
    E = list(er) + [e for p, e in zip(ph, er) if p < 0.5]
    return P, M, E

def add_series(p, ph, mg, er, marker, size, color, alpha, mlw, elw):
    P, M, E = fold(ph, mg, er)
    lo = [m - e for m, e in zip(M, E)]
    hi = [m + e for m, e in zip(M, E)]
    p.segment(x0=P, y0=lo, x1=P, y1=hi, line_color=color, line_alpha=alpha, line_width=elw)
    if marker == "circle":
        p.scatter(P, M, marker="circle", size=size, fill_color=color, line_color=color,
                  fill_alpha=alpha, line_alpha=alpha)
    else:
        p.scatter(P, M, marker=marker, size=size, line_color=color, line_alpha=alpha, line_width=mlw)

def style_axis(ax, labels):
    ax.major_tick_in = 7
    ax.major_tick_out = 0
    ax.minor_tick_in = 4
    ax.minor_tick_out = 0
    ax.axis_line_color = "black"
    ax.major_tick_line_color = "black"
    ax.minor_tick_line_color = "black"
    ax.formatter = CustomJSTickFormatter(code=FMT)
    if labels:
        ax.major_label_text_font = FONT
        ax.major_label_text_font_size = TICK_FS
        ax.major_label_text_color = "black"
        ax.major_label_standoff = 7
        ax.axis_label_text_font = FONT
        ax.axis_label_text_font_size = LABEL_FS
        ax.axis_label_text_font_style = "normal"
        ax.axis_label_text_color = "black"
    else:
        ax.major_label_text_font_size = "0px"
        ax.major_label_standoff = 0
        ax.major_label_policy = CustomLabelingPolicy(code=NO_LABELS)
        ax.axis_label = None

def make_panel(i):
    label, (ybot, ytop), step, nminor = PANELS[i]
    first = (i == 0)
    last = (i == len(PANELS) - 1)
    p = figure(frame_width=FRAME_W, frame_height=FRAME_H,
               x_range=Range1d(*X_RANGE), y_range=Range1d(ybot, ytop),
               output_backend="svg", toolbar_location=None,
               min_border_left=LEFT, min_border_right=RIGHT,
               min_border_top=(TOP if first else 0), min_border_bottom=0)
    p.grid.visible = False
    p.outline_line_color = "black"
    p.outline_line_width = 1
    yax = p.yaxis[0]
    yax.ticker = SingleIntervalTicker(interval=step, num_minor_ticks=nminor)
    style_axis(yax, True)
    yax.axis_label = label
    yax.axis_label_standoff = 8
    rax = LinearAxis(ticker=SingleIntervalTicker(interval=step, num_minor_ticks=nminor))
    style_axis(rax, False)
    p.add_layout(rax, "right")
    xax = p.xaxis[0]
    xax.ticker = SingleIntervalTicker(interval=0.2, num_minor_ticks=4)
    if last:
        style_axis(xax, True)
        xax.major_label_standoff = 3
        xax.axis_label = "Phase"
        xax.axis_label_standoff = 6
    else:
        style_axis(xax, False)
    tax = LinearAxis(ticker=SingleIntervalTicker(interval=0.2, num_minor_ticks=4))
    style_axis(tax, False)
    p.add_layout(tax, "above")
    return p

panels = [make_panel(i) for i in range(len(PANELS))]

def split3(lst):
    return [a for a, b, c in lst], [b for a, b, c in lst], [c for a, b, c in lst]

GREEN, CYAN, ORANGE, RED, MAGENTA = "#008000", "#00FFFF", "#FFA500", "#FF0000", "#BF00BF"

# ZTF g
add_series(panels[0], ZTF_PHASE, ZTF_MAG, [ZTF_ERR] * len(ZTF_MAG), "x", 9, GREEN, 0.5, 1.3, 2.0)
add_series(panels[0], ZTF2_PHASE, ZTF2_MAG, [ZTF_ERR] * len(ZTF2_MAG), "x", 9, GREEN, 0.5, 1.3, 2.0)
# ASAS-SN g
add_series(panels[1], ASASG_PHASE, ASASG_MAG, [ASASG_ERR] * len(ASASG_MAG), "x", 9, GREEN, 0.5, 1.3, 2.0)
add_series(panels[1], ASASG2_PHASE, ASASG2_MAG, [ASASG_ERR] * len(ASASG2_MAG), "x", 9, GREEN, 0.5, 1.3, 2.0)
wp, wm, we = split3(ASASG_WIDE)
add_series(panels[1], wp, wm, we, "x", 9, GREEN, 0.5, 1.3, 2.0)
# ATLAS c
add_series(panels[2], ATLASC_PHASE, ATLASC_MAG, [ATLASC_ERR] * len(ATLASC_MAG), "x", 10, CYAN, 0.55, 1.4, 1.5)
wp, wm, we = split3(ATLASC_WIDE)
add_series(panels[2], wp, wm, we, "x", 10, CYAN, 0.55, 1.4, 1.5)
# SWASP
sp, sm, se = split3(SWASP_POINTS)
add_series(panels[3], sp, sm, se, "cross", 10, "black", 0.75, 1.0, 1.8)
# ASAS-SN V
vp = [a for a, b in ASASV_POINTS]
vm = [b for a, b in ASASV_POINTS]
add_series(panels[4], vp, vm, [ASASV_ERR] * len(vm), "x", 10, "black", 0.85, 1.5, 2.0)
wp, wm, we = split3(ASASV_WIDE)
add_series(panels[4], wp, wm, we, "x", 10, "black", 0.85, 1.5, 2.0)
# ATLAS o
op = [a for a, b in ATLASO_POINTS]
om = [b for a, b in ATLASO_POINTS]
add_series(panels[5], op, om, [ATLASO_ERR] * len(om), "x", 10, ORANGE, 0.55, 1.4, 1.5)
wp, wm, we = split3(ATLASO_WIDE)
add_series(panels[5], wp, wm, we, "x", 10, ORANGE, 0.55, 1.4, 1.5)
# CMO Ic
cp, cm, ce = split3(CMO_POINTS)
add_series(panels[6], cp, cm, ce, "circle", 10, RED, 1.0, 1.0, 2.0)
# WISE W1
qp, qm, qe = split3(WISE_POINTS)
add_series(panels[7], qp, qm, qe, "circle", 9, MAGENTA, 1.0, 1.0, 2.5)

layout = column(*panels, spacing=0)
open("out.html", "w").write(file_html(layout, INLINE))
